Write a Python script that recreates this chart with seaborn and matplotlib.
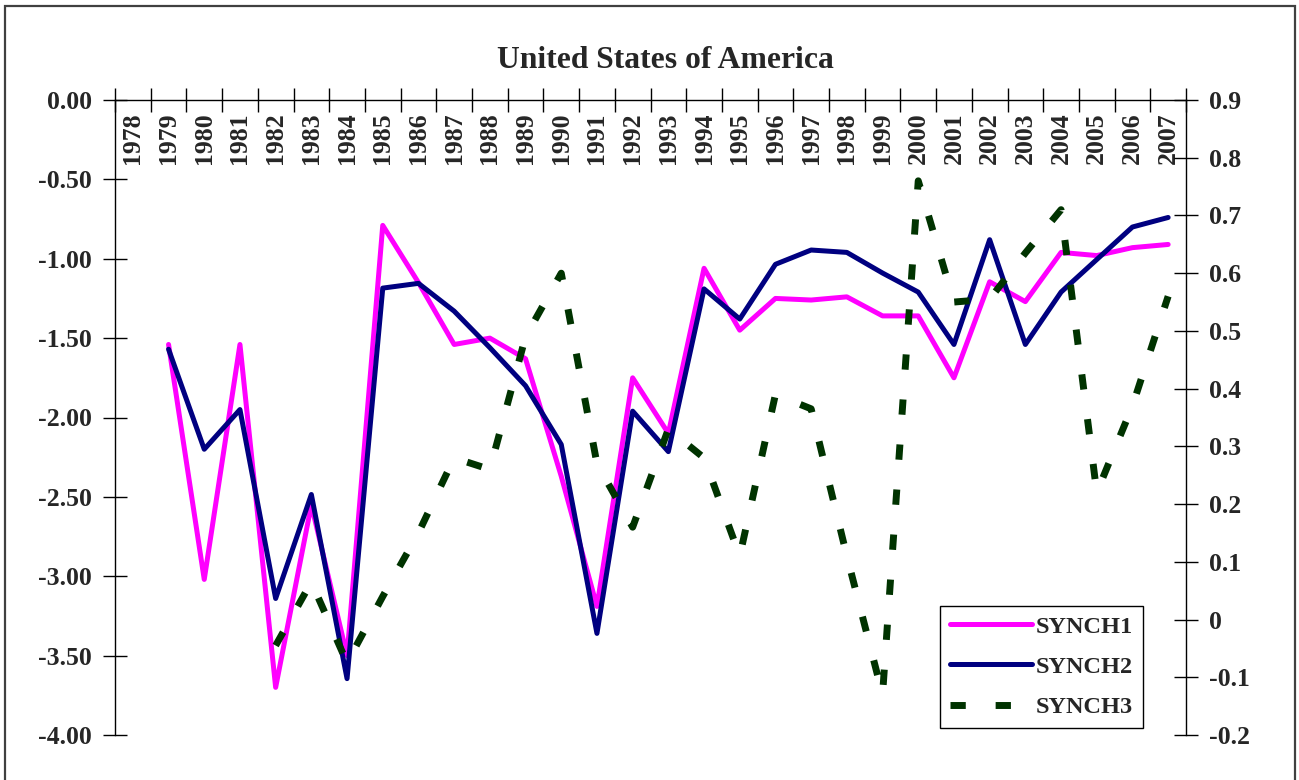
import numpy as np
import pandas as pd
import matplotlib
matplotlib.use("Agg")
import matplotlib.pyplot as plt
from matplotlib.patches import Rectangle
from matplotlib.font_manager import FontProperties
import seaborn as sns

# data
years = [1978, 1979, 1980, 1981, 1982, 1983, 1984, 1985, 1986, 1987,
         1988, 1989, 1990, 1991, 1992, 1993, 1994, 1995, 1996, 1997,
         1998, 1999, 2000, 2001, 2002, 2003, 2004, 2005, 2006, 2007]
nan = np.nan
synch1 = [nan, -1.54, -3.02, -1.54, -3.70, -2.55, -3.50, -0.79, -1.15, -1.54,
          -1.50, -1.63, -2.37, -3.19, -1.75, -2.10, -1.06, -1.45, -1.25, -1.26,
          -1.24, -1.36, -1.36, -1.75, -1.145, -1.27, -0.96, -0.98, -0.93, -0.91]
synch2 = [nan, -1.57, -2.20, -1.95, -3.14, -2.485, -3.645, -1.185, -1.155, -1.33,
          -1.56, -1.80, -2.17, -3.36, -1.96, -2.215, -1.19, -1.38, -1.035, -0.945,
          -0.96, -1.09, -1.21, -1.54, -0.88, -1.54, -1.21, -1.005, -0.80, -0.74]
synch3 = [nan, nan, nan, nan, -0.045, 0.065, -0.075, 0.04, 0.15, 0.28,
          0.26, 0.49, 0.60, 0.27, 0.16, 0.33, 0.28, 0.11, 0.39, 0.365,
          0.11, -0.13, 0.76, 0.55, 0.555, 0.635, 0.71, 0.22, 0.37, 0.56]

left_ticks = [0.0, -0.5, -1.0, -1.5, -2.0, -2.5, -3.0, -3.5, -4.0]
left_labels = ["0.00", "-0.50", "-1.00", "-1.50", "-2.00", "-2.50", "-3.00", "-3.50", "-4.00"]
right_ticks = [0.9, 0.8, 0.7, 0.6, 0.5, 0.4, 0.3, 0.2, 0.1, 0.0, -0.1, -0.2]
right_labels = ["0.9", "0.8", "0.7", "0.6", "0.5", "0.4", "0.3", "0.2", "0.1", "0", "-0.1", "-0.2"]

df = pd.DataFrame({"year": years, "SYNCH1": synch1, "SYNCH2": synch2, "SYNCH3": synch3})

sns.set_style("white")
plt.rcParams['font.family'] = ['Liberation Serif', 'DejaVu Serif']
plt.rcParams['font.weight'] = 'bold'

W, H = 1299, 780
fig = plt.figure(figsize=(W / 100, H / 100), dpi=100)
ax = fig.add_axes([115 / W, 45 / H, 1071 / W, 635 / H])
ax2 = ax.twinx()

sns.lineplot(data=df, x="year", y="SYNCH1", ax=ax, color="#FF00FF", lw=3.6,
             estimator=None, label="SYNCH1")
sns.lineplot(data=df, x="year", y="SYNCH2", ax=ax, color="#000080", lw=3.6,
             estimator=None, label="SYNCH2")
sns.lineplot(data=df, x="year", y="SYNCH3", ax=ax2, color="#003300", lw=5,
             estimator=None, label="SYNCH3", linestyle=(0, (2.2, 4.3)))
for a in (ax, ax2):
    if a.get_legend() is not None:
        a.get_legend().remove()
    a.set_xlabel("")
    a.set_ylabel("")

# category axis across the top (y = 0 line)
ax.set_xlim(years[0] - 0.5, years[-1] + 0.5)
ax.set_xticks(np.append(np.array(years) - 0.5, years[-1] + 0.5))
ax.set_xticks(years, minor=True)
ax.set_xticklabels([str(y) for y in years], minor=True)
ax.tick_params(axis="x", which="major", top=True, bottom=False, labeltop=False,
               labelbottom=False, direction="inout", length=17, width=1, color="black")
ax.tick_params(axis="x", which="minor", top=True, bottom=False, labeltop=True,
               labelbottom=False, length=0, pad=-9, labelsize=18.5, labelrotation=90)
plt.setp(ax.get_xticklabels(minor=True), va="top", fontweight="bold")

ax.set_ylim(-4, 0)
ax.set_yticks(left_ticks)
ax.set_yticklabels(left_labels, fontweight="bold")
ax.tick_params(axis="y", left=True, direction="inout", length=17, width=1,
               color="black", labelsize=18.5, pad=8)

ax2.set_ylim(-0.2, 0.9)
ax2.set_yticks(right_ticks)
ax2.set_yticklabels(right_labels, fontweight="bold")
ax2.tick_params(axis="y", right=True, direction="inout", length=17, width=1,
                color="black", labelsize=18.5, pad=8)

for s in ("bottom", "right"):
    ax.spines[s].set_visible(False)
for s in ("bottom", "top", "left"):
    ax2.spines[s].set_visible(False)
for a, s in ((ax, "left"), (ax, "top"), (ax2, "right")):
    a.spines[s].set_color("black")
    a.spines[s].set_linewidth(1)

handles = ax.get_lines()[:2] + ax2.get_lines()[:1]
legend_font = FontProperties(family=["Liberation Serif"], weight="bold", size=17.5)
leg = ax2.legend(handles, ["SYNCH1", "SYNCH2", "SYNCH3"], loc="upper left",
                 bbox_to_anchor=(940 / W, 1 - 606 / H), bbox_transform=fig.transFigure,
                 borderaxespad=0, fancybox=False, framealpha=1, edgecolor="black",
                 prop=legend_font, handlelength=3.4,
                 handletextpad=0.15, labelspacing=0.75, borderpad=0.4)
leg.get_frame().set_linewidth(1)

fig.text(665 / W, 1 - 61 / H, "United States of America", ha="center", va="center",
         fontsize=22.8, fontweight="bold")

# outer chart-area border
fig.patches.append(Rectangle((5 / W, -0.05), 1290 / W, 1.05 - 6 / H,
                             transform=fig.transFigure, fill=False,
                             edgecolor="#404040", linewidth=1.6))

fig.savefig("out.png", dpi=100)
